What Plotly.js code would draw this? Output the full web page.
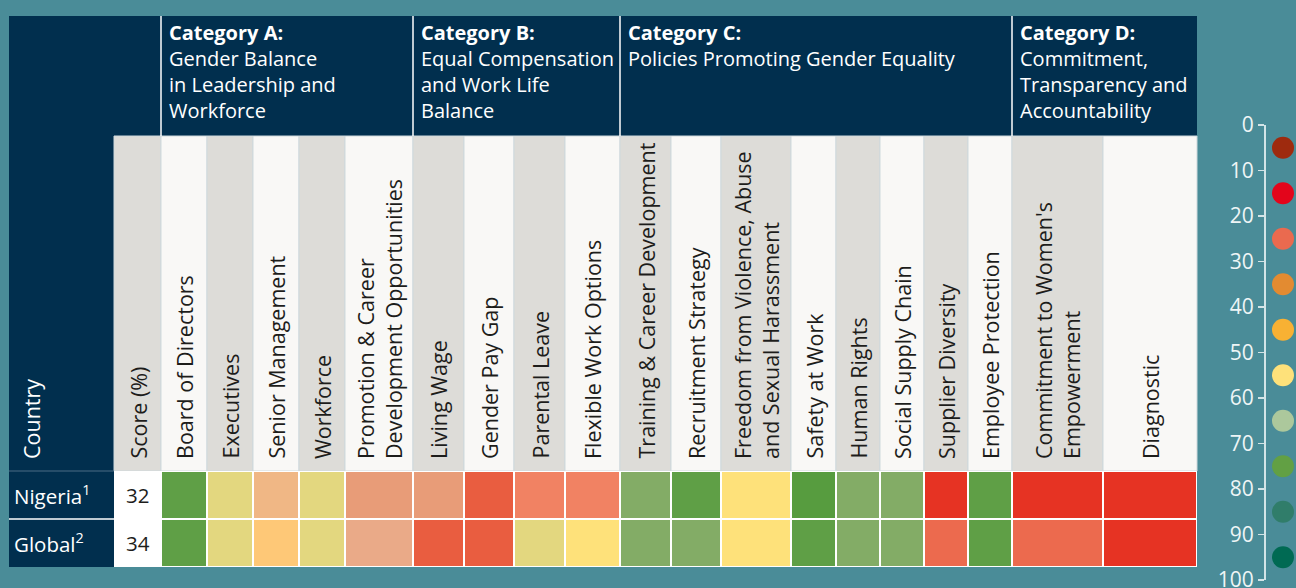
<!DOCTYPE html>
<html>
<head>
<meta charset="utf-8">
<script src="https://cdn.plot.ly/plotly-3.0.1.min.js"></script>
<style>html,body{margin:0;padding:0;background:#4a8c98;}#chart{width:1296px;height:588px;}</style>
</head>
<body>
<div id="chart"></div>
<script>
// ---------------- DATA ----------------
const countries = ['Nigeria<sup>1</sup>', 'Global<sup>2</sup>'];
const scores = [32, 34];

const categoryTitles = ['Category A:', 'Category B:', 'Category C:', 'Category D:'];
const categorySubtitles = [
  'Gender Balance<br>in Leadership and<br>Workforce',
  'Equal Compensation<br>and Work Life<br>Balance',
  'Policies Promoting Gender Equality',
  'Commitment,<br>Transparency and<br>Accountability'
];

const indicators = [
  'Board of Directors', 'Executives', 'Senior Management', 'Workforce',
  'Promotion & Career<br>Development Opportunities',
  'Living Wage', 'Gender Pay Gap', 'Parental Leave', 'Flexible Work Options',
  'Training & Career Development', 'Recruitment Strategy',
  'Freedom from Violence, Abuse<br>and Sexual Harassment',
  'Safety at Work', 'Human Rights', 'Social Supply Chain', 'Supplier Diversity',
  'Employee Protection',
  "Commitment to Women's<br>Empowerment", 'Diagnostic'
];
// number of indicators in each category
const categorySizes = [5, 4, 8, 2];

// estimated indicator scores (0-100)
const nigeriaScores = [75, 60, 40, 60, 33, 33, 18, 28, 28, 68, 75, 55, 78, 68, 68, 10, 75, 10, 10];
const globalScores  = [75, 60, 45, 60, 36, 18, 18, 60, 55, 68, 68, 55, 75, 68, 68, 24, 75, 24, 10];

// colour scale used for cells (score -> colour)
const cellScaleScores = [0, 10, 18, 24, 28, 33, 36, 40, 45, 55, 60, 68, 75, 78, 100];
const cellScaleColors = ['#e63323', '#e63323', '#e95d40', '#ec6a4e', '#f18263', '#e89c78', '#eaaa88',
  '#f0b785', '#fec877', '#fee17a', '#e3d77f', '#83ac66', '#5f9f46', '#579c3f', '#579c3f'];

// legend scale
const legendTicks = [0, 10, 20, 30, 40, 50, 60, 70, 80, 90, 100];
const legendMids = [5, 15, 25, 35, 45, 55, 65, 75, 85, 95];
const legendColors = ['#9e2a0e', '#e3051b', '#ea6a4f', '#e38b31', '#f8b133', '#fee17a',
  '#acc89c', '#62a044', '#307d6a', '#006a53'];

// ---------------- LAYOUT GEOMETRY (pixels) ----------------
const W = 1296, H = 588;
const colEdges = [9, 114, 161, 207, 253, 299, 345, 413, 464, 514, 565, 620, 671, 721, 791, 836, 880, 924, 968, 1012, 1103, 1197];
const tableTop = 16, headBottom = 136, colHeadBottom = 471;
const rowEdges = [471, 519, 567];
const navy = '#012f4e', teal = '#4a8c98';
const greyBg = '#dddcd8', whiteBg = '#f9f8f6';
const FONT = 'Open Sans, sans-serif';
const HEAD_SIZE = 20, COL_SIZE = 21.5, ROW_SIZE = 20.5;

const shapes = [];
const annotations = [];

// header navy band
shapes.push({type: 'rect', xref: 'x', yref: 'y', layer: 'below', x0: colEdges[0], x1: colEdges[colEdges.length - 1],
  y0: tableTop, y1: headBottom, fillcolor: navy, line: {width: 0}});
// country column navy
shapes.push({type: 'rect', xref: 'x', yref: 'y', layer: 'below', x0: colEdges[0], x1: colEdges[1],
  y0: headBottom, y1: rowEdges[2], fillcolor: navy, line: {width: 0}});
// country column row separator
shapes.push({type: 'line', xref: 'x', yref: 'y', layer: 'above', x0: colEdges[0], x1: colEdges[1],
  y0: rowEdges[1], y1: rowEdges[1], line: {color: '#ffffff', width: 1.5}});
shapes.push({type: 'line', xref: 'x', yref: 'y', layer: 'above', x0: colEdges[0], x1: colEdges[1],
  y0: rowEdges[0], y1: rowEdges[0], line: {color: '#4d6d84', width: 1}});
// column header backgrounds (score + indicators)
for (let i = 1; i < colEdges.length - 1; i++) {
  shapes.push({type: 'rect', xref: 'x', yref: 'y', layer: 'below', x0: colEdges[i], x1: colEdges[i + 1],
    y0: headBottom, y1: colHeadBottom, fillcolor: (i % 2 === 1) ? greyBg : whiteBg,
    line: {color: '#cfd9dc', width: 1}});
}
// white base behind the cells (shows through gaps)
shapes.push({type: 'rect', xref: 'x', yref: 'y', layer: 'below', x0: colEdges[1], x1: colEdges[colEdges.length - 1],
  y0: rowEdges[0], y1: rowEdges[2], fillcolor: '#ffffff', line: {width: 0}});

// category separators and titles
let c = 2;
for (let k = 0; k < categorySizes.length; k++) {
  const x0 = colEdges[c];
  shapes.push({type: 'line', xref: 'x', yref: 'y', layer: 'above', x0: x0, x1: x0, y0: tableTop, y1: headBottom,
    line: {color: '#ffffff', width: 1.5}});
  annotations.push({xref: 'x', yref: 'y', x: x0 + 6, y: tableTop + 1, xanchor: 'left', yanchor: 'top', align: 'left',
    showarrow: false, text: '<b>' + categoryTitles[k] + '</b><br>' + categorySubtitles[k],
    font: {family: FONT, size: HEAD_SIZE, color: '#ffffff'}});
  c += categorySizes[k];
}

// column header labels
annotations.push({xref: 'x', yref: 'y', x: colEdges[0] + 22, y: 461, xanchor: 'center', yanchor: 'bottom',
  textangle: -90, showarrow: false, text: 'Country', font: {family: FONT, size: COL_SIZE, color: '#ffffff'}});
annotations.push({xref: 'x', yref: 'y', x: (colEdges[1] + colEdges[2]) / 2, y: 461, xanchor: 'center', yanchor: 'bottom',
  textangle: -90, showarrow: false, text: 'Score (%)', font: {family: FONT, size: COL_SIZE, color: '#1d1d1b'}});
indicators.forEach((name, i) => {
  annotations.push({xref: 'x', yref: 'y', x: (colEdges[i + 2] + colEdges[i + 3]) / 2, y: 461,
    xanchor: 'center', yanchor: 'bottom', align: 'left', textangle: -90, showarrow: false, text: name,
    font: {family: FONT, size: COL_SIZE, color: '#1d1d1b'}});
});

// row labels and scores
countries.forEach((name, r) => {
  const yc = (rowEdges[r] + rowEdges[r + 1]) / 2;
  annotations.push({xref: 'x', yref: 'y', x: colEdges[0] + 3, y: yc, xanchor: 'left', yanchor: 'middle',
    showarrow: false, text: name, font: {family: FONT, size: ROW_SIZE, color: '#ffffff'}});
  annotations.push({xref: 'x', yref: 'y', x: (colEdges[1] + colEdges[2]) / 2, y: yc, xanchor: 'center', yanchor: 'middle',
    showarrow: false, text: String(scores[r]), font: {family: FONT, size: ROW_SIZE, color: '#1d1d1b'}});
});

// ---------------- TRACES ----------------
const colorscale = cellScaleScores.map((s, i) => [s / 100, cellScaleColors[i]]);
const heat = {
  type: 'heatmap', xaxis: 'x', yaxis: 'y',
  x: colEdges.slice(2), y: rowEdges,
  z: [nigeriaScores, globalScores],
  zmin: 0, zmax: 100, colorscale: colorscale, showscale: false,
  xgap: 2, ygap: 2, hoverinfo: 'skip'
};
const legendDots = {
  type: 'scatter', mode: 'markers', xaxis: 'x2', yaxis: 'y2',
  x: legendMids.map(() => 'scale'), y: legendMids,
  marker: {size: 22, color: legendColors, line: {width: 0}}, hoverinfo: 'skip', showlegend: false
};

const layout = {
  width: W, height: H,
  margin: {l: 0, r: 0, t: 0, b: 0, pad: 0},
  paper_bgcolor: teal, plot_bgcolor: 'rgba(0,0,0,0)',
  showlegend: false,
  font: {family: FONT},
  xaxis: {domain: [0, 1], range: [0, W], visible: false, fixedrange: true},
  yaxis: {domain: [0, 1], range: [H, 0], visible: false, fixedrange: true},
  xaxis2: {domain: [1272 / W, 1294 / W], type: 'category', visible: false, anchor: 'y2', fixedrange: true},
  yaxis2: {domain: [1 - 580 / H, 1 - 125 / H], range: [100, 0], anchor: 'free', position: 1264 / W, side: 'left',
    tickvals: legendTicks, ticks: 'outside', ticklen: 6, tickwidth: 1.5, tickcolor: '#d3e4e7',
    showline: true, linecolor: '#d3e4e7', linewidth: 1.5, showgrid: false, zeroline: false,
    ticklabeloverflow: 'allow',
    tickfont: {family: FONT, size: 21, color: '#eef5f6'}, fixedrange: true},
  shapes: shapes,
  annotations: annotations
};

Plotly.newPlot('chart', [heat, legendDots], layout, {displayModeBar: false, staticPlot: true});
</script>
</body>
</html>
